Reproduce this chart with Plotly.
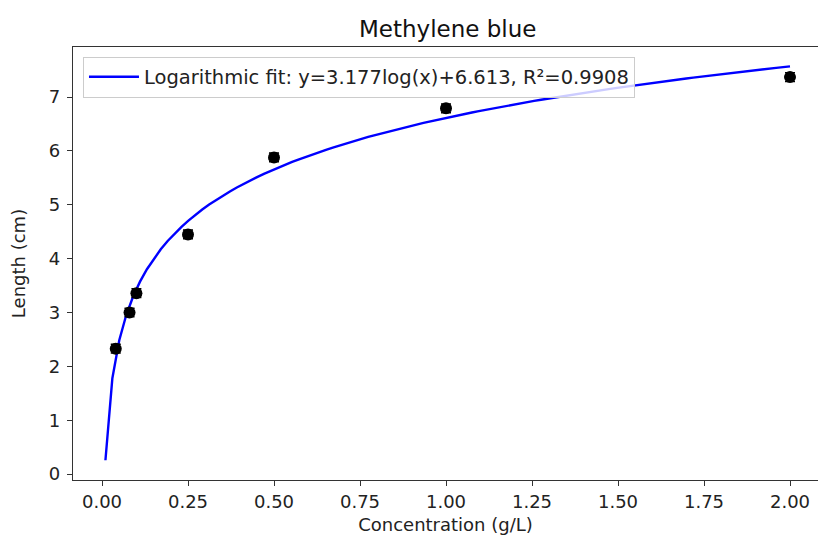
import numpy as np
import plotly.graph_objects as go

# Measured lengths for methylene blue at each concentration
concentration = [0.04, 0.08, 0.10, 0.25, 0.50, 1.00, 2.00]
length_cm = [2.33, 3.00, 3.36, 4.45, 5.88, 6.79, 7.37]
length_err = [0.08, 0.08, 0.08, 0.08, 0.08, 0.08, 0.08]

# Logarithmic fit coefficients: y = a*log10(x) + b
fit_a = 3.177
fit_b = 6.613
fit_r2 = 0.9908

x_ticks = [0.00, 0.25, 0.50, 0.75, 1.00, 1.25, 1.50, 1.75, 2.00]
y_ticks = [0, 1, 2, 3, 4, 5, 6, 7]

x_fit = np.linspace(0.01, 2.0, 100)
y_fit = fit_a * np.log10(x_fit) + fit_b

FONT = "DejaVu Sans"

fig = go.Figure()
fig.add_trace(go.Scatter(
    x=x_fit, y=y_fit, mode="lines",
    line=dict(color="#0000ff", width=2.4),
    name=f"Logarithmic fit: y={fit_a:.3f}log(x)+{fit_b:.3f}, R²={fit_r2:.4f}",
))
fig.add_trace(go.Scatter(
    x=concentration, y=length_cm, mode="markers",
    marker=dict(color="black", size=12),
    error_y=dict(type="data", array=length_err, color="black", thickness=1.5, width=5),
    showlegend=False,
))

axis_common = dict(
    showgrid=False, zeroline=False,
    showline=True, linecolor="#333333", linewidth=1.4,
    ticks="outside", ticklen=5, tickwidth=1.2, tickcolor="#333333",
    tickfont=dict(family=FONT, size=18, color="#222222"),
)

fig.update_layout(
    width=818, height=542,
    margin=dict(l=73, r=0, t=47, b=62),
    paper_bgcolor="white", plot_bgcolor="white",
    font=dict(family=FONT, color="#222222"),
    title=dict(text="Methylene blue", x=0.503, xref="paper", xanchor="center",
               y=1 - 29 / 542, yref="container", yanchor="middle",
               font=dict(family=FONT, size=23, color="#111111")),
    xaxis=dict(range=[-0.0843, 2.0814], tickvals=x_ticks,
               ticktext=[f"{v:.2f}" for v in x_ticks], mirror=True,
               title=dict(text="Concentration (g/L)", standoff=7,
                          font=dict(family=FONT, size=18, color="#222222")),
               **axis_common),
    yaxis=dict(range=[-0.108, 7.929], tickvals=y_ticks,
               ticktext=[str(v) for v in y_ticks], mirror=False,
               ticklabelstandoff=3,
               title=dict(text="Length (cm)", standoff=18,
                          font=dict(family=FONT, size=18, color="#222222")),
               **axis_common),
    legend=dict(x=0.0134, y=0.978, xanchor="left", yanchor="top",
                itemwidth=50,
                bgcolor="rgba(255,255,255,0.8)", bordercolor="#cccccc", borderwidth=1,
                font=dict(family=FONT, size=19.5, color="#222222")),
)

fig.write_html("out.html")
